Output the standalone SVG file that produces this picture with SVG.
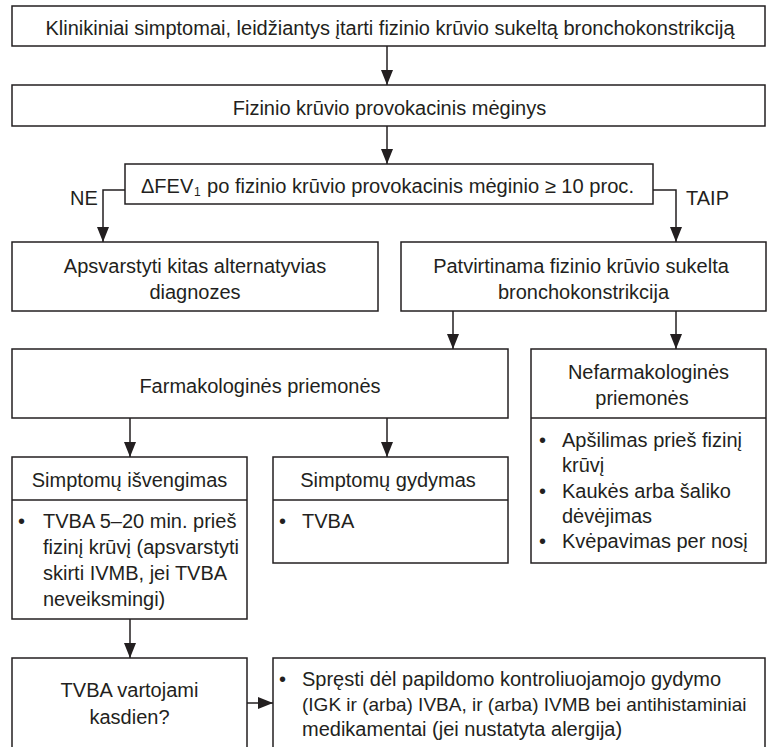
<svg xmlns="http://www.w3.org/2000/svg" width="768" height="747" viewBox="0 0 768 747">
<style>
.b{fill:#fff;stroke:#231f20;stroke-width:1.5}
.c{fill:none;stroke:#231f20;stroke-width:1.5}
text{font-family:"Liberation Sans",Arial,sans-serif;font-size:20px;fill:#231f20}
.m{text-anchor:middle}
</style>
<defs>
<marker id="ah" markerUnits="userSpaceOnUse" markerWidth="16" markerHeight="13" refX="15" refY="6" orient="auto">
<path d="M0,0 L15,6 L0,12 Z" fill="#231f20"/>
</marker>
</defs>
<rect width="768" height="747" fill="#fff"/>
<g id="connectors">
<line class="c" x1="387" y1="46" x2="387" y2="85" marker-end="url(#ah)"/>
<line class="c" x1="387" y1="126" x2="387" y2="164" marker-end="url(#ah)"/>
<polyline class="c" points="125,190 103,190 103,242" marker-end="url(#ah)"/>
<polyline class="c" points="653,190 676,190 676,242" marker-end="url(#ah)"/>
<line class="c" x1="453" y1="311" x2="453" y2="349" marker-end="url(#ah)"/>
<line class="c" x1="676" y1="311" x2="676" y2="349" marker-end="url(#ah)"/>
<line class="c" x1="130" y1="418" x2="130" y2="457" marker-end="url(#ah)"/>
<line class="c" x1="387" y1="418" x2="387" y2="457" marker-end="url(#ah)"/>
<line class="c" x1="130" y1="619" x2="130" y2="658" marker-end="url(#ah)"/>
<line class="c" x1="247" y1="703" x2="273" y2="703" marker-end="url(#ah)"/>
<text x="70" y="205">NE</text>
<text x="686" y="205">TAIP</text>
</g>
<g id="n1">
<rect class="b" x="12" y="6" width="753" height="40"/>
<text class="m" x="390" y="35">Klinikiniai simptomai, leidžiantys įtarti fizinio krūvio sukeltą bronchokonstrikciją</text>
</g>
<g id="n2">
<rect class="b" x="12" y="85" width="753" height="41"/>
<text class="m" x="389.5" y="115">Fizinio krūvio provokacinis mėginys</text>
</g>
<g id="n3">
<rect class="b" x="125" y="164" width="528" height="40"/>
<text x="141" y="193">ΔFEV</text>
<text x="194" y="196" style="font-size:12px">1</text>
<text x="207" y="193" textLength="427" lengthAdjust="spacingAndGlyphs">po fizinio krūvio provokacinis mėginio ≥ 10 proc.</text>
</g>
<g id="n4">
<rect class="b" x="12" y="242" width="366" height="69"/>
<text class="m" x="195" y="273">Apsvarstyti kitas alternatyvias</text>
<text class="m" x="195" y="299">diagnozes</text>
</g>
<g id="n5">
<rect class="b" x="401" y="242" width="365" height="69"/>
<text class="m" x="581" y="273">Patvirtinama fizinio krūvio sukelta</text>
<text class="m" x="583.5" y="299">bronchokonstrikcija</text>
</g>
<g id="n6">
<rect class="b" x="12" y="349" width="496" height="69"/>
<text class="m" x="260" y="393">Farmakologinės priemonės</text>
</g>
<g id="n7">
<rect class="b" x="531" y="349" width="235" height="214"/>
<line class="c" x1="531" y1="418" x2="766" y2="418"/>
<text class="m" x="648.5" y="379">Nefarmakologinės</text>
<text class="m" x="642" y="405">priemonės</text>
<text x="539" y="447">•</text><text x="562" y="447">Apšilimas prieš fizinį</text>
<text x="562" y="472">krūvį</text>
<text x="539" y="498">•</text><text x="562" y="498">Kaukės arba šaliko</text>
<text x="562" y="523">dėvėjimas</text>
<text x="539" y="548">•</text><text x="562" y="548">Kvėpavimas per nosį</text>
</g>
<g id="n8">
<rect class="b" x="12" y="457" width="235" height="162"/>
<line class="c" x1="12" y1="500" x2="247" y2="500"/>
<text class="m" x="129.5" y="487">Simptomų išvengimas</text>
<text x="18" y="528">•</text><text x="43" y="528">TVBA 5–20 min. prieš</text>
<text x="43" y="554" textLength="196" lengthAdjust="spacingAndGlyphs">fizinį krūvį (apsvarstyti</text>
<text x="43" y="580">skirti IVMB, jei TVBA</text>
<text x="43" y="606">neveiksmingi)</text>
</g>
<g id="n9">
<rect class="b" x="273" y="457" width="235" height="106"/>
<line class="c" x1="273" y1="500" x2="508" y2="500"/>
<text class="m" x="388" y="487">Simptomų gydymas</text>
<text x="279" y="528">•</text><text x="302" y="528">TVBA</text>
</g>
<g id="n10">
<path class="b" d="M12,748 V658 H247 V748"/>
<text class="m" x="129.5" y="697">TVBA vartojami</text>
<text class="m" x="129.5" y="724">kasdien?</text>
</g>
<g id="n11">
<path class="b" d="M273,748 V658 H765 V748"/>
<text x="279" y="686">•</text><text x="302" y="686">Spręsti dėl papildomo kontroliuojamojo gydymo</text>
<text x="302" y="711" style="font-size:19px">(IGK ir (arba) IVBA, ir (arba) IVMB bei antihistaminiai</text>
<text x="302" y="736">medikamentai (jei nustatyta alergija)</text>
</g>
</svg>
